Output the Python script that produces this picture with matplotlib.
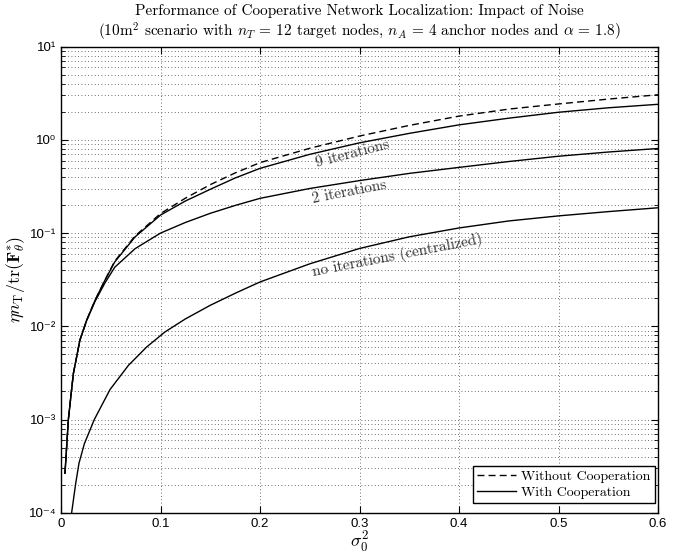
import matplotlib
matplotlib.use("Agg")
import matplotlib.pyplot as plt
import numpy as np
from matplotlib.ticker import LogLocator, FixedLocator, FixedFormatter, NullFormatter

plt.rcParams['mathtext.fontset'] = 'cm'
plt.rcParams['axes.formatter.use_mathtext'] = True

# ---- data ----
x_coop = [0.004, 0.0074, 0.0124, 0.019, 0.0258, 0.0342, 0.044, 0.054, 0.0744,
          0.1, 0.125, 0.15, 0.175, 0.2, 0.25, 0.3, 0.35, 0.4, 0.45, 0.5, 0.55, 0.6]
without_coop = [2.65e-4, 1.0e-3, 3.1e-3, 7.1e-3, 0.0116, 0.019, 0.031, 0.050, 0.093,
                0.162, 0.237, 0.331, 0.442, 0.570, 0.813, 1.10, 1.43, 1.80, 2.14, 2.43, 2.74, 3.05]
iter9 = [2.65e-4, 1.0e-3, 3.1e-3, 7.1e-3, 0.0116, 0.019, 0.031, 0.049, 0.091,
         0.156, 0.221, 0.295, 0.390, 0.495, 0.70, 0.93, 1.175, 1.45, 1.71, 1.98, 2.21, 2.41]
iter2 = [2.65e-4, 1.0e-3, 3.1e-3, 7.1e-3, 0.0116, 0.0185, 0.029, 0.043, 0.068,
         0.100, 0.130, 0.163, 0.198, 0.236, 0.301, 0.366, 0.437, 0.507, 0.586, 0.668, 0.741, 0.809]
x_noiter = [0.0107, 0.0148, 0.0181, 0.0235, 0.0335, 0.0493, 0.0677, 0.0861, 0.1045,
            0.125, 0.15, 0.175, 0.2, 0.25, 0.3, 0.35, 0.4, 0.45, 0.5, 0.55, 0.6]
noiter = [1.0e-4, 2.07e-4, 3.4e-4, 5.5e-4, 1.0e-3, 2.1e-3, 3.8e-3, 6.0e-3, 8.7e-3,
          0.0120, 0.0168, 0.0226, 0.0299, 0.0468, 0.0684, 0.0912, 0.1135, 0.135, 0.153, 0.170, 0.187]

x_ticks = [0, 0.1, 0.2, 0.3, 0.4, 0.5, 0.6]
x_ticklabels = ['0', '0.1', '0.2', '0.3', '0.4', '0.5', '0.6']
y_ticks = [1e-4, 1e-3, 1e-2, 1e-1, 1e0, 1e1]
y_ticklabels = ['10⁻⁴', '10⁻³', '10⁻²', '10⁻¹', '10⁰', '10¹']

title = ("Performance of Cooperative Network Localization: Impact of Noise\n"
         r"(10m$^2$ scenario with $n_T$ = 12 target nodes, $n_A$ = 4 anchor nodes and $\alpha$ = 1.8)")

fig = plt.figure(figsize=(6.94, 5.54), dpi=100)
ax = fig.add_axes([61/694, 1 - 512.7/554, (658 - 61)/694, (512.7 - 46.7)/554])

ax.plot(x_coop, without_coop, color='black', lw=1.0, linestyle=(0, (5, 3)),
        label='Without Cooperation')
ax.plot(x_coop, iter9, color='black', lw=1.0, label='With Cooperation')
ax.plot(x_coop, iter2, color='black', lw=1.0)
ax.plot(x_noiter, noiter, color='black', lw=1.0)

ax.set_yscale('log')
ax.set_xlim(0, 0.6)
ax.set_ylim(1e-4, 1e1)

ax.xaxis.set_major_locator(FixedLocator(x_ticks))
ax.xaxis.set_major_formatter(FixedFormatter(x_ticklabels))
ax.yaxis.set_major_locator(FixedLocator(y_ticks))
ax.yaxis.set_major_formatter(FixedFormatter(y_ticklabels))
ax.yaxis.set_minor_locator(LogLocator(base=10, subs=np.arange(2, 10), numticks=20))
ax.yaxis.set_minor_formatter(NullFormatter())

for lab in ax.get_xticklabels() + ax.get_yticklabels():
    lab.set_family(['Liberation Sans', 'DejaVu Sans'])
    lab.set_fontsize(9.5)

ax.tick_params(which='both', direction='in', top=True, right=True, color='black')
ax.tick_params(which='major', length=5, width=0.8)
ax.tick_params(which='minor', length=3, width=0.6)

ax.grid(True, which='major', axis='both', color='0.25', linestyle=(0, (1, 3)), lw=0.6)
ax.grid(True, which='minor', axis='y', color='0.25', linestyle=(0, (1, 3)), lw=0.6)
for s in ax.spines.values():
    s.set_linewidth(1.0)

serif = ['cmr10', 'DejaVu Serif']
ax.set_title(title, fontsize=11, family=serif, linespacing=1.2, pad=7)
ax.set_xlabel(r'$\sigma_0^2$', fontsize=13, labelpad=0)
ax.set_ylabel(r'$\eta n_{\mathrm{T}}/\mathrm{tr}(\mathbf{F}_{\theta}^{*})$', fontsize=13, labelpad=1)

ax.text(0.2925, 0.706, '9 iterations', rotation=14.5, ha='center', va='center',
        fontsize=11, family=serif, color='0.2')
ax.text(0.290, 0.276, '2 iterations', rotation=11, ha='center', va='center',
        fontsize=11, family=serif, color='0.2')
ax.text(0.338, 0.058, 'no iterations (centralized)', rotation=11, ha='center', va='center',
        fontsize=11, family=serif, color='0.2')

leg = ax.legend(loc='lower right', bbox_to_anchor=(0.995, 0.021),
                prop={'family': serif, 'size': 10}, frameon=True,
                fancybox=False, edgecolor='black', framealpha=1, borderpad=0.3,
                labelspacing=0.2, handlelength=2.8, handletextpad=0.4,
                borderaxespad=0.0)
leg.get_frame().set_linewidth(1.0)

fig.savefig('out.png', dpi=100)
